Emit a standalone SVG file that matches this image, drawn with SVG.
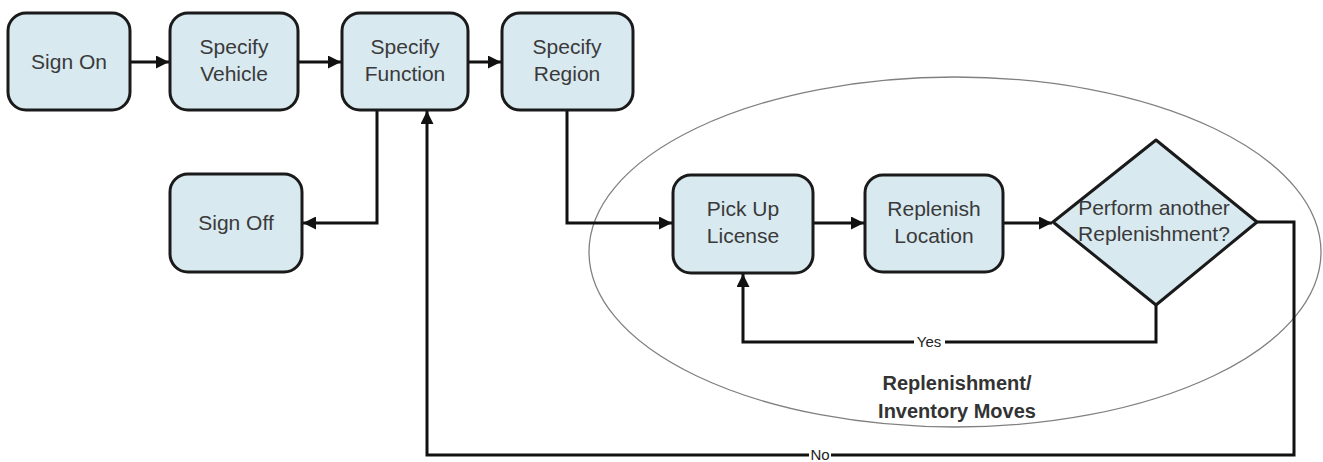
<svg xmlns="http://www.w3.org/2000/svg" width="1323" height="462" viewBox="0 0 1323 462">
<defs>
<style>
.box{fill:#d8e9f0;stroke:#1a1a1a;stroke-width:3}
.lbl{font-family:"Liberation Sans",Arial,sans-serif;font-size:21px;fill:#3a3a3a;text-anchor:middle}
.edge{fill:none;stroke:#111;stroke-width:3}
.elab{font-family:"Liberation Sans",Arial,sans-serif;font-size:15px;fill:#222;text-anchor:middle}
.group{font-family:"Liberation Sans",Arial,sans-serif;font-size:20px;font-weight:bold;fill:#333;text-anchor:middle}
</style>
<marker id="arr" markerUnits="userSpaceOnUse" markerWidth="14" markerHeight="13" refX="13" refY="6.5" orient="auto">
<path d="M0,0 L13,6.5 L0,13 Z" fill="#111"/>
</marker>
</defs>
<rect width="1323" height="462" fill="#fff"/>
<g id="scope">
<ellipse cx="955" cy="252" rx="366" ry="175" fill="none" stroke="#808080" stroke-width="1.3"/>
<text class="group" x="957" y="390">Replenishment/</text>
<text class="group" x="957" y="418">Inventory Moves</text>
</g>
<g id="connectors">
<path class="edge" d="M130,62 H169" marker-end="url(#arr)"/>
<path class="edge" d="M298,62 H341" marker-end="url(#arr)"/>
<path class="edge" d="M468,62 H501" marker-end="url(#arr)"/>
<path class="edge" d="M377,110 V223 H303" marker-end="url(#arr)"/>
<path class="edge" d="M567,110 V223 H672" marker-end="url(#arr)"/>
<path class="edge" d="M813,223 H864" marker-end="url(#arr)"/>
<path class="edge" d="M1003,223 H1052" marker-end="url(#arr)"/>
<path class="edge" d="M1156,305 V342 H945"/>
<path class="edge" d="M914,342 H743 V274" marker-end="url(#arr)"/>
<text class="elab" x="929" y="347">Yes</text>
<path class="edge" d="M1257,222 H1294 V455 H831"/>
<path class="edge" d="M809,455 H427 V111" marker-end="url(#arr)"/>
<text class="elab" x="820" y="460">No</text>
</g>
<g id="sign-on">
<rect class="box" x="8" y="13" width="122" height="97" rx="18"/>
<text class="lbl" x="69" y="69">Sign On</text>
</g>
<g id="specify-vehicle">
<rect class="box" x="170" y="13" width="128" height="97" rx="18"/>
<text class="lbl" x="234" y="54">Specify</text>
<text class="lbl" x="234" y="81">Vehicle</text>
</g>
<g id="specify-function">
<rect class="box" x="342" y="13" width="126" height="97" rx="18"/>
<text class="lbl" x="405" y="54">Specify</text>
<text class="lbl" x="405" y="81">Function</text>
</g>
<g id="specify-region">
<rect class="box" x="502" y="13" width="131" height="97" rx="18"/>
<text class="lbl" x="567" y="54">Specify</text>
<text class="lbl" x="567" y="81">Region</text>
</g>
<g id="sign-off">
<rect class="box" x="170" y="174" width="132" height="98" rx="18"/>
<text class="lbl" x="236" y="230">Sign Off</text>
</g>
<g id="pick-up-license">
<rect class="box" x="673" y="175" width="140" height="98" rx="18"/>
<text class="lbl" x="743" y="216">Pick Up</text>
<text class="lbl" x="743" y="243">License</text>
</g>
<g id="replenish-location">
<rect class="box" x="865" y="175" width="138" height="97" rx="18"/>
<text class="lbl" x="934" y="216">Replenish</text>
<text class="lbl" x="934" y="243">Location</text>
</g>
<g id="perform-another">
<path class="box" d="M1156,140 L1257,222 L1156,305 L1053,222 Z" stroke-linejoin="round"/>
<text class="lbl" x="1154" y="215">Perform another</text>
<text class="lbl" x="1154" y="241">Replenishment?</text>
</g>
</svg>
